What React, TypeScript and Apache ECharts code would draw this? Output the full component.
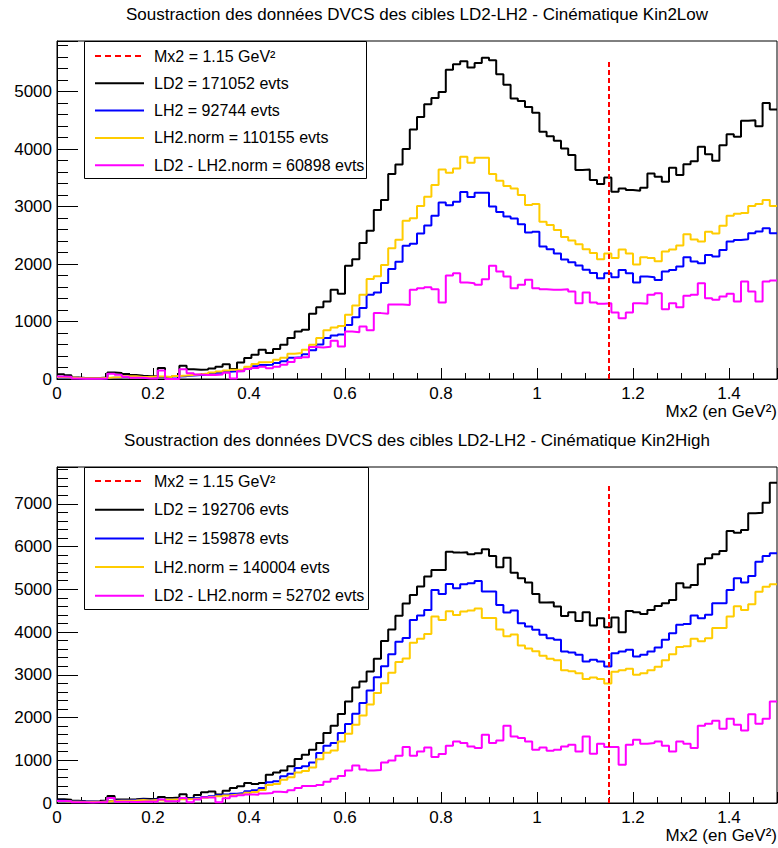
import React, { useEffect, useRef } from "react";
import * as echarts from "echarts";

// ---------- binning ----------
const X_MIN = 0;
const X_MAX = 1.5;
const BIN_WIDTH = 0.015;
const X_TICK_STEP = 0.2;
const Y_TICK_STEP = 1000;
const X_CUT = 1.15;

// ---------- Kin2Low (top panel) ----------
const lowTitle = "Soustraction des données DVCS des cibles LD2-LH2 - Cinématique Kin2Low";
const lowYMax = 5880;
const lowCutTop = 5530;
const lowLegend = [
  "Mx2 = 1.15 GeV²",
  "LD2 = 171052 evts",
  "LH2 = 92744 evts",
  "LH2.norm = 110155 evts",
  "LD2 - LH2.norm = 60898 evts",
];
const lowLD2 = [
  81, 64, 28, 17, 17, 17, 28, 114, 105, 88, 68, 56, 46, 52, 192, 36, 53, 229, 171, 163, 165, 183, 211, 258,
  172,
  289, 365, 422, 509, 451, 521, 596, 712, 827, 856, 1134, 1250, 1348, 1551, 1481,
  1970, 2085, 2367, 2578, 2940, 3113, 3568, 3730, 4000,
  4340, 4560, 4780, 4890, 4994, 5382, 5474, 5527, 5417, 5498, 5590, 5544, 5301, 5121, 4878, 4838, 4734, 4630,
  4300, 4224, 4143, 4010, 3895, 3634, 3646, 3461, 3391, 3507, 3258, 3316, 3287, 3275, 3327, 3576, 3518, 3432,
  3675, 3547, 3738, 3790, 4039, 3912, 3796, 4068, 4259, 4213, 4491, 4502, 4398, 4803, 4687,
];
const lowLH2 = [
  30, 20, 15, 10, 10, 10, 15, 20, 25, 40, 40, 30, 30, 35, 35, 30, 45, 50, 60, 70, 80, 95, 110, 125,
  136, 140, 180, 220, 245, 250, 280, 310, 370, 380, 430, 500, 600, 715, 755, 775,
  940, 1075, 1233, 1465, 1505, 1671, 1915, 2040, 2318,
  2353, 2533, 2670, 2841, 3070, 3021, 3084, 3255, 3167, 3240, 3240, 3002, 2904, 2826, 2792, 2694, 2548, 2563,
  2304, 2256, 2182,
  2080, 2030, 1975, 1900, 1845, 1753, 1840, 1771, 1898, 1840, 1678, 1782, 1771, 1724, 1869, 1898, 1956, 2118,
  2043, 2014, 2158, 2130, 2245, 2390, 2419, 2430, 2535, 2564, 2622, 2535,
];
const lowLH2norm = [
  36, 24, 18, 12, 12, 12, 18, 24, 30, 48, 48, 36, 36, 42, 42, 36, 53, 59, 71, 83, 95, 113, 131, 148,
  162, 166, 214, 261, 291, 297, 333, 368, 439, 451, 511, 594, 713, 849, 897, 920,
  1116, 1277, 1464, 1740, 1787, 1985, 2274, 2423, 2753,
  2795, 3008, 3171, 3374, 3646, 3588, 3663, 3866, 3761, 3848, 3848, 3565, 3449, 3356, 3316, 3200, 3026, 3044,
  2736, 2679, 2592,
  2470, 2411, 2346, 2257, 2191, 2082, 2185, 2103, 2254, 2185, 1993, 2116, 2103, 2048, 2220, 2254, 2323, 2516,
  2426, 2392, 2563, 2530, 2666, 2839, 2873, 2886, 3011, 3045, 3114, 3011,
];
const lowDiff = [
  45, 40, 10, 5, 5, 5, 10, 90, 75, 40, 20, 20, 10, 10, 150, 0, 0, 170, 100, 80, 70, 70, 80, 110,
  10, 135, 175, 190, 215, 185, 215, 250, 295, 365, 380, 555, 550, 560, 665, 565,
  825, 815, 912, 848, 1146, 1137, 1296, 1294, 1287,
  1551, 1580, 1597, 1562, 1331, 1800, 1840, 1678, 1667, 1638, 1736, 1968, 1869, 1782, 1580, 1638, 1725, 1580,
  1562, 1551, 1551, 1562, 1522, 1319, 1505, 1331, 1308, 1319, 1157, 1059, 1157, 1319, 1308, 1464, 1493, 1215,
  1319, 1250, 1447, 1464, 1667, 1406, 1377, 1435, 1481, 1348, 1696, 1522, 1348, 1696, 1713,
];

// ---------- Kin2High (bottom panel) ----------
const highTitle = "Soustraction des données DVCS des cibles LD2-LH2 - Cinématique Kin2High";
const highYMax = 7860;
const highCutTop = 7440;
const highLegend = [
  "Mx2 = 1.15 GeV²",
  "LD2 = 192706 evts",
  "LH2 = 159878 evts",
  "LH2.norm = 140004 evts",
  "LD2 - LH2.norm = 52702 evts",
];
const highLD2 = [
  89, 75, 51, 41, 36, 37, 55, 161, 83, 83, 86, 100, 96, 100, 141, 119, 128, 205, 116, 185, 253, 270, 200, 285,
  350, 389, 467, 444, 467, 662, 716, 763, 857, 1028, 1129, 1246, 1402, 1635, 1807,
  2083, 2375, 2700, 2843, 3076, 3376, 3790, 4058, 4380, 4665,
  4868, 5062, 5296, 5452, 5452, 5880, 5857, 5864, 5818, 5841, 5934, 5779, 5514, 5740, 5389, 5257, 5156, 4891,
  4688, 4696, 4595, 4377, 4462, 4260, 4462, 4151, 4322, 4112, 4338, 3995, 4494, 4462, 4424, 4517, 4611, 4673,
  4751, 5140, 5039, 5101, 5584, 5724, 5818, 5895, 6363, 6324, 6386, 6776, 6791, 7025, 7492,
];
const highLH2 = [
  50, 40, 35, 30, 30, 25, 40, 50, 60, 60, 70, 80, 70, 80, 70, 90, 100, 100, 110, 120, 140, 160, 180, 200,
  218, 234, 272, 296, 350, 483, 506, 623, 685, 818, 857, 950, 1168, 1340, 1402, 1640,
  1850, 2090, 2340, 2630, 2940, 3200, 3480, 3770, 3860,
  4283, 4385, 4517, 4984, 4891, 5124, 5023, 5117, 5140, 5195, 4945, 4945, 4634, 4455, 4501, 4206, 4128, 4050,
  3933, 3855, 3816, 3544, 3520, 3466, 3310, 3349, 3310, 3193, 3505, 3544, 3583, 3427, 3466, 3544, 3637, 3816,
  3972, 4167, 4190, 4385, 4323, 4401, 4673, 4673, 4984, 5257, 5156, 5312, 5646, 5779, 5841,
];
const highLH2norm = [
  44, 35, 31, 26, 26, 22, 35, 44, 53, 53, 61, 70, 61, 70, 61, 79, 88, 88, 96, 105, 123, 140, 158, 175,
  191, 205, 238, 259, 306, 423, 443, 546, 600, 716, 750, 832, 1023, 1173, 1228, 1436,
  1620, 1830, 2049, 2303, 2575, 2802, 3047, 3301, 3380,
  3751, 3840, 3956, 4365, 4283, 4487, 4399, 4481, 4501, 4549, 4330, 4330, 4058, 3901, 3942, 3683, 3615, 3547,
  3444, 3376, 3342, 3104, 3082, 3035, 2899, 2933, 2899, 2796, 3069, 3104, 3138, 3001, 3035, 3104, 3185, 3342,
  3478, 3649, 3669, 3840, 3786, 3854, 4092, 4092, 4365, 4604, 4515, 4652, 4944, 5061, 5115,
];
const highDiff = [
  45, 40, 20, 15, 10, 15, 20, 117, 30, 30, 25, 30, 35, 30, 80, 40, 40, 117, 20, 80, 130, 130, 15, 110,
  156, 180, 200, 195, 220, 234, 265, 250, 300, 350, 400, 400, 420, 500, 570, 630, 760, 880, 785, 760, 770,
  950, 997, 1106, 1308, 1106, 1207, 1301, 1075, 1145, 1340, 1441, 1402, 1324, 1285, 1597, 1402, 1464, 1807,
  1558, 1519, 1441, 1246, 1301, 1223, 1246, 1324, 1363, 1207, 1558, 1153, 1386, 1308, 1308, 896, 1363, 1480,
  1386, 1402, 1441, 1340, 1207, 1441, 1386, 1285, 1807, 1854, 1924, 1737, 1970, 1830, 1698, 2079, 1854, 1970,
  2375,
];

// ---------- styling ----------
const FONT = '"Liberation Sans", Arial, Helvetica, sans-serif';
const COLORS = ["#ff0000", "#000000", "#0000ff", "#ffcc00", "#ff00ff"];
const CUT_DASH = [5, 3];

const W = 778;
const H = 848;
const PLOT_LEFT = 57;
const PLOT_RIGHT = 1;

const panels = [
  {
    title: lowTitle, yMax: lowYMax, cutTop: lowCutTop, legend: lowLegend,
    series: [lowLD2, lowLH2, lowLH2norm, lowDiff],
    top: 41, height: 338, titleY: 14.5, nameY: 411,
    legendBox: { x: 84, y: 41, w: 282, h: 137 }, rowY0: 56, rowStep: 27.3,
  },
  {
    title: highTitle, yMax: highYMax, cutTop: highCutTop, legend: highLegend,
    series: [highLD2, highLH2, highLH2norm, highDiff],
    top: 467, height: 336, titleY: 440, nameY: 835,
    legendBox: { x: 84, y: 467, w: 284, h: 142 }, rowY0: 481, rowStep: 28.7,
  },
];

function toSteps(vals: number[]): number[][] {
  const pts = vals.map((v, i) => [+(X_MIN + i * BIN_WIDTH).toFixed(4), v]);
  pts.push([+(X_MIN + vals.length * BIN_WIDTH).toFixed(4), vals[vals.length - 1]]);
  return pts;
}

const plainNumber = (v: number) => String(v);

function buildOption() {
  const grids: any[] = [];
  const xAxes: any[] = [];
  const yAxes: any[] = [];
  const series: any[] = [];
  const graphics: any[] = [];

  panels.forEach((p, gi) => {
    grids.push({
      left: PLOT_LEFT, right: PLOT_RIGHT, top: p.top, height: p.height,
      show: true, borderColor: "#000", borderWidth: 1, backgroundColor: "transparent",
    });
    xAxes.push({
      gridIndex: gi, type: "value", min: X_MIN, max: X_MAX, interval: X_TICK_STEP,
      axisLine: { show: true, onZero: false, lineStyle: { color: "#000", width: 1 } },
      axisTick: { show: true, inside: true, length: 11, lineStyle: { color: "#000", width: 1 } },
      minorTick: { show: true, splitNumber: 4, length: 6, lineStyle: { color: "#000", width: 1 } },
      axisLabel: {
        show: true, margin: 6, color: "#000", fontSize: 17, fontFamily: FONT, showMaxLabel: false,
        formatter: plainNumber,
      },
      splitLine: { show: false },
    });
    yAxes.push({
      gridIndex: gi, type: "value", min: 0, max: p.yMax, interval: Y_TICK_STEP,
      axisLine: { show: true, onZero: false, lineStyle: { color: "#000", width: 1 } },
      axisTick: { show: true, inside: true, length: 21, lineStyle: { color: "#000", width: 1 } },
      minorTick: { show: true, splitNumber: 5, length: 11, lineStyle: { color: "#000", width: 1 } },
      axisLabel: {
        show: true, margin: 5, color: "#000", fontSize: 17, fontFamily: FONT, showMaxLabel: false,
        formatter: plainNumber,
      },
      splitLine: { show: false },
    });

    p.series.forEach((vals, si) => {
      series.push({
        type: "line", name: p.legend[si + 1], xAxisIndex: gi, yAxisIndex: gi,
        data: toSteps(vals), step: "end", showSymbol: false, symbol: "none",
        lineStyle: { color: COLORS[si + 1], width: 2 }, silent: true, z: 2 + si * 0.1,
      });
    });
    series.push({
      type: "line", name: p.legend[0], xAxisIndex: gi, yAxisIndex: gi,
      data: [[X_CUT, 0], [X_CUT, p.cutTop]], showSymbol: false, symbol: "none",
      lineStyle: { color: COLORS[0], width: 2, type: CUT_DASH }, silent: true, z: 3,
    });

    graphics.push({
      type: "text", x: PLOT_LEFT + (W - PLOT_LEFT - PLOT_RIGHT) / 2, y: p.titleY, z: 100,
      style: { text: p.title, fill: "#000", fontSize: 17, fontFamily: FONT, align: "center", verticalAlign: "middle" },
    });
    graphics.push({
      type: "text", x: W - PLOT_RIGHT, y: p.nameY, z: 100,
      style: { text: "Mx2 (en GeV²)", fill: "#000", fontSize: 17, fontFamily: FONT, align: "right", verticalAlign: "middle" },
    });
    const b = p.legendBox;
    graphics.push({
      type: "rect", z: 100, shape: { x: b.x + 0.5, y: b.y + 0.5, width: b.w, height: b.h },
      style: { fill: "#fff", stroke: "#000", lineWidth: 1 },
    });
    p.legend.forEach((label, li) => {
      const ry = p.rowY0 + li * p.rowStep;
      graphics.push({
        type: "line", z: 101, shape: { x1: 95, y1: ry, x2: 144, y2: ry },
        style: { stroke: COLORS[li], lineWidth: 2, lineDash: li === 0 ? [6, 4] : null },
      });
      graphics.push({
        type: "text", z: 101, x: 154, y: ry,
        style: { text: label, fill: "#000", fontSize: 16, fontFamily: FONT, align: "left", verticalAlign: "middle" },
      });
    });
  });

  return {
    animation: false,
    backgroundColor: "#fff",
    grid: grids,
    xAxis: xAxes,
    yAxis: yAxes,
    series,
    graphic: { elements: graphics },
  };
}

export default function App() {
  const ref = useRef<HTMLDivElement>(null);
  useEffect(() => {
    const el = ref.current;
    if (!el) return;
    const chart = echarts.init(el, undefined, { renderer: "svg" });
    chart.setOption(buildOption() as any);
    return () => chart.dispose();
  }, []);
  return (
    <div
      ref={ref}
      style={{ position: "absolute", left: 0, top: 0, width: W, height: H, background: "#fff" }}
    />
  );
}
